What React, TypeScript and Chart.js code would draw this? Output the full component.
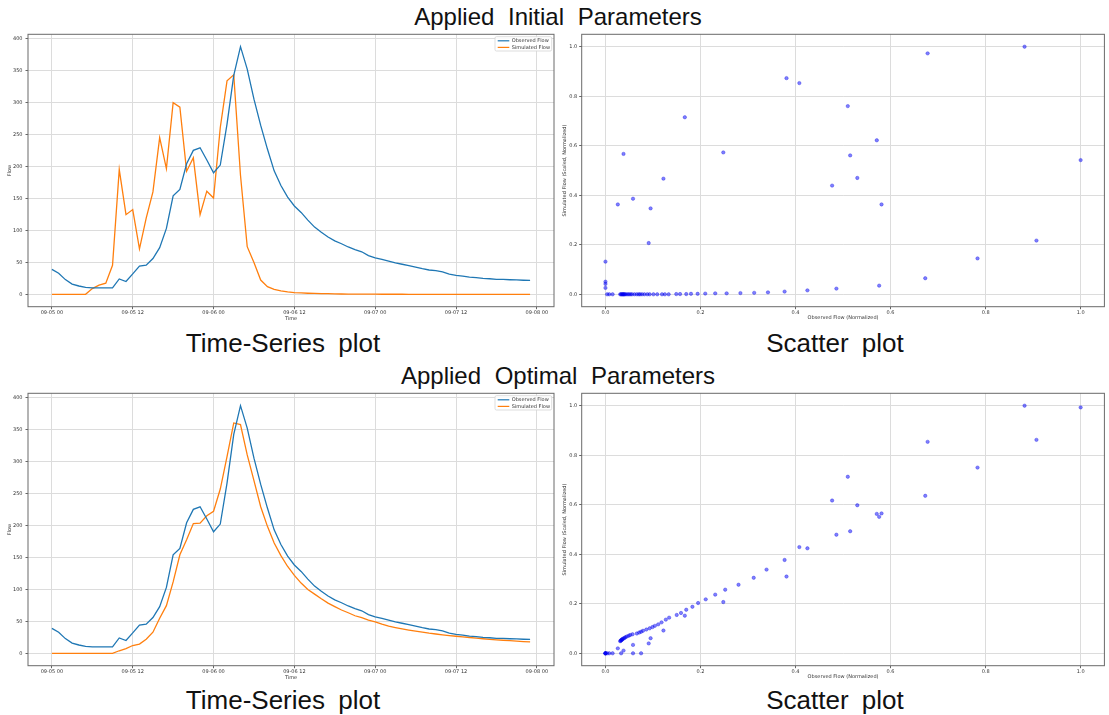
import React, { useEffect, useRef } from 'react';
import { Chart, registerables } from 'chart.js';

Chart.register(...registerables);

// ---------- data ----------
const timeTickHours = [0, 12, 24, 36, 48, 60, 72];
const timeTickLabels = ['09-05 00', '09-05 12', '09-06 00', '09-06 12', '09-07 00', '09-07 12', '09-08 00'];
const flowTicks = [0, 50, 100, 150, 200, 250, 300, 350, 400];
const normTicks = [0, 0.2, 0.4, 0.6, 0.8, 1.0];

// hourly values, 09-05 00 .. 09-07 23
const observedFlow = [
  39, 33, 23, 16, 13, 11, 10, 10, 10, 10,
  24, 20, 32, 44, 45.5, 56, 73, 103, 154, 164,
  204, 225, 229, 210, 190, 202, 266, 342, 387, 352,
  305, 264, 227, 193, 170, 152, 138, 128, 116, 105,
  97, 89.5, 83.5, 79, 74, 70, 66.5, 60.5, 57, 54.5,
  52, 49, 47, 45, 42.5, 40, 38, 37, 35, 31.5,
  29.6, 28.5, 27, 26, 25, 24.3, 23.5, 23.2, 22.8, 22.5,
  22, 21.7,
];
const simulatedInitial = [
  0, 0, 0, 0, 0, 0, 8.9, 14.4, 17.5, 45.3,
  195, 124.5, 132.4, 71, 119, 160, 245, 196.5, 299.4, 292.6,
  192.4, 213.3, 124.5, 161.2, 150.6, 260.7, 333.7, 343, 186, 74.4,
  49.7, 22.3, 12, 7.9, 5.5, 3.8, 2.7, 2.1, 1.7, 1.4,
  1.2, 1.0, 0.7, 0.5, 0.4, 0.3, 0.3, 0.2, 0.2, 0.1,
  0.1, 0.1, 0.1, 0, 0, 0, 0, 0, 0, 0,
  0, 0, 0, 0, 0, 0, 0, 0, 0, 0,
  0, 0,
];
const simulatedOptimal = [
  0, 0, 0, 0, 0, 0, 0, 0, 0, 0,
  4, 7.2, 12.2, 14.4, 22, 33, 54.7, 74.5, 111.6, 154,
  177.5, 202.7, 203.4, 215, 222, 256.7, 307.4, 360, 357.5, 310,
  270, 229, 198.4, 172.4, 152.6, 135.7, 121.7, 109.8, 99.7, 92.5,
  85.3, 78.5, 73, 67.7, 63.4, 58.7, 55.8, 51.8, 49, 45.5,
  42.5, 40.3, 38.3, 36.4, 34.6, 33, 31.4, 30.2, 28.9, 27.8,
  26.7, 25.7, 24.7, 23.7, 22.8, 21.9, 21.1, 20.4, 19.7, 19,
  18.4, 17.8,
];

// scatter: observed (normalized) vs simulated (scaled, normalized)
const initialScatterX = [
  0, 0, 0, 0,
  0.0035, 0.008, 0.015,
  0.031, 0.033, 0.034, 0.036, 0.037, 0.038, 0.040, 0.041, 0.044, 0.047, 0.050, 0.053, 0.056, 0.061,
  0.066, 0.070, 0.073, 0.077,
  0.082, 0.088, 0.093, 0.101,
  0.109, 0.119, 0.125, 0.133,
  0.149, 0.157, 0.170, 0.180, 0.194, 0.210, 0.231, 0.255, 0.284, 0.313, 0.342, 0.377, 0.425,
  0.486, 0.576, 0.673, 0.783, 0.907, 1.0,
  0.026, 0.038, 0.058, 0.091, 0.095, 0.122, 0.167, 0.248, 0.381, 0.408,
  0.477, 0.510, 0.515, 0.530, 0.571, 0.581, 0.678, 0.882,
];
const initialScatterY = [
  0.132, 0.051, 0.042, 0.026,
  0, 0, 0,
  0, 0, 0, 0, 0, 0, 0, 0, 0, 0, 0, 0, 0, 0,
  0, 0, 0, 0,
  0, 0, 0, 0,
  0, 0, 0, 0,
  0.001, 0.001, 0.001, 0.002, 0.002, 0.003, 0.004, 0.004, 0.005, 0.006, 0.008, 0.011, 0.016,
  0.023, 0.035, 0.065, 0.145, 0.217, 0.542,
  0.363, 0.567, 0.386, 0.207, 0.347, 0.467, 0.715, 0.573, 0.873, 0.853,
  0.439, 0.760, 0.561, 0.470, 0.622, 0.363, 0.973, 1.0,
];
const optimalScatterX = [
  0, 0, 0, 0, 0.0035, 0.008, 0.015, 0.033, 0.058, 0.075,
  0.038, 0.026, 0.058, 0.091, 0.095, 0.122, 0.167, 0.248, 0.381, 0.408,
  0.515, 0.571, 0.581, 0.530, 0.477, 0.510, 0.678, 0.882, 1.0, 0.907,
  0.783, 0.673, 0.576, 0.486, 0.425, 0.377, 0.339, 0.312, 0.280, 0.252,
  0.231, 0.211, 0.195, 0.183, 0.170, 0.159, 0.150, 0.134, 0.127, 0.118,
  0.111, 0.104, 0.099, 0.093, 0.086, 0.079, 0.075, 0.071, 0.066, 0.057,
  0.052, 0.049, 0.045, 0.042, 0.040, 0.038, 0.036, 0.035, 0.034, 0.033,
  0.032, 0.031,
];
const optimalScatterY = [
  0, 0, 0, 0, 0, 0, 0, 0, 0, 0,
  0.011, 0.020, 0.034, 0.040, 0.061, 0.092, 0.152, 0.207, 0.310, 0.429,
  0.493, 0.563, 0.565, 0.598, 0.617, 0.713, 0.854, 1.0, 0.993, 0.862,
  0.750, 0.636, 0.551, 0.479, 0.424, 0.377, 0.338, 0.305, 0.277, 0.257,
  0.237, 0.218, 0.203, 0.188, 0.176, 0.163, 0.155, 0.144, 0.136, 0.125,
  0.117, 0.111, 0.106, 0.101, 0.096, 0.091, 0.087, 0.084, 0.080, 0.077,
  0.074, 0.071, 0.068, 0.065, 0.062, 0.060, 0.058, 0.056, 0.054, 0.053,
  0.051, 0.049,
];

// ---------- styling ----------
const FONT = 'DejaVu Sans';
const GRID = '#dcdcdc';
const TICKTXT = '#333';
const BLUE = '#1f77b4';
const ORANGE = '#ff7f0e';

const framePlugin = {
  id: 'frame',
  afterDraw(chart: any) {
    const { ctx, chartArea: a } = chart;
    ctx.save();
    ctx.strokeStyle = '#6a6a6a';
    ctx.lineWidth = 1;
    ctx.strokeRect(a.left, a.top, a.right - a.left, a.bottom - a.top);
    ctx.restore();
  },
};

const legendPlugin = {
  id: 'mplLegend',
  afterDraw(chart: any) {
    const { ctx, chartArea: a } = chart;
    const w = 56.7;
    const h = 14.3;
    const x0 = a.right - 2.3 - w;
    const y0 = a.top + 2.4;
    ctx.save();
    ctx.fillStyle = 'rgba(255,255,255,0.85)';
    ctx.strokeStyle = '#d4d4d4';
    ctx.lineWidth = 0.8;
    ctx.beginPath();
    ctx.roundRect(x0, y0, w, h, 1.5);
    ctx.fill();
    ctx.stroke();
    chart.data.datasets.forEach((ds: any, i: number) => {
      const y = y0 + 4.1 + i * 6.6;
      ctx.strokeStyle = ds.borderColor;
      ctx.lineWidth = 1.2;
      ctx.beginPath();
      ctx.moveTo(x0 + 2.7, y);
      ctx.lineTo(x0 + 14.3, y);
      ctx.stroke();
      ctx.fillStyle = TICKTXT;
      ctx.font = `5px "${FONT}"`;
      ctx.textBaseline = 'middle';
      ctx.textAlign = 'left';
      ctx.fillText(ds.label, x0 + 16.7, y);
    });
    ctx.restore();
  },
};

const tickFont = { size: 5, family: FONT };

function setTicks(values: number[]) {
  return (s: any) => {
    s.ticks = values.map((v) => ({ value: v }));
  };
}

function TimeSeriesChart({ sim, top }: { sim: number[]; top: number }) {
  const ref = useRef<HTMLCanvasElement>(null);
  useEffect(() => {
    const chart = new Chart(ref.current as HTMLCanvasElement, {
      type: 'line',
      data: {
        datasets: [
          {
            label: 'Observed Flow',
            data: observedFlow.map((v, i) => ({ x: i, y: v })),
            borderColor: BLUE,
            borderWidth: 1.3,
            pointRadius: 0,
            tension: 0,
          },
          {
            label: 'Simulated Flow',
            data: sim.map((v, i) => ({ x: i, y: v })),
            borderColor: ORANGE,
            borderWidth: 1.3,
            pointRadius: 0,
            tension: 0,
          },
        ],
      },
      options: {
        animation: false,
        responsive: false,
        devicePixelRatio: 1,
        layout: { padding: { top: 8.3, right: 2, left: 0, bottom: 0 } },
        plugins: { legend: { display: false }, tooltip: { enabled: false } },
        scales: {
          x: {
            type: 'linear',
            min: -3.55,
            max: 74.55,
            afterBuildTicks: setTicks(timeTickHours),
            afterFit: (s: any) => {
              s.height = 19.3;
            },
            ticks: {
              autoSkip: false,
              maxRotation: 0,
              padding: 1,
              color: TICKTXT,
              font: tickFont,
              callback: (v: any) => timeTickLabels[timeTickHours.indexOf(Number(v))],
            },
            grid: { color: GRID, lineWidth: 1, tickLength: 2.5, tickColor: '#666' },
            border: { display: false },
            title: { display: true, text: 'Time', color: TICKTXT, font: tickFont, padding: { top: 0, bottom: 4.7 } },
          },
          y: {
            type: 'linear',
            min: -19.35,
            max: 406.35,
            afterBuildTicks: setTicks(flowTicks),
            afterFit: (s: any) => {
              s.width = 28;
            },
            ticks: { padding: 3, color: TICKTXT, font: tickFont, callback: (v: any) => String(v) },
            grid: { color: GRID, lineWidth: 1, tickLength: 2.5, tickColor: '#666' },
            border: { display: false },
            title: { display: true, text: 'Flow', color: TICKTXT, font: tickFont, padding: { top: 7, bottom: 0 } },
          },
        },
      },
      plugins: [framePlugin, legendPlugin],
    } as any);
    return () => chart.destroy();
  }, [sim]);
  return (
    <canvas
      ref={ref}
      width={556}
      height={300}
      style={{ position: 'absolute', left: 0, top, width: 556, height: 300 }}
    />
  );
}

function ScatterChart({ xs, ys, top }: { xs: number[]; ys: number[]; top: number }) {
  const ref = useRef<HTMLCanvasElement>(null);
  useEffect(() => {
    const chart = new Chart(ref.current as HTMLCanvasElement, {
      type: 'scatter',
      data: {
        datasets: [
          {
            label: 'points',
            data: xs.map((x, i) => ({ x, y: ys[i] })),
            pointRadius: 1.7,
            pointBorderWidth: 0.6,
            pointBackgroundColor: 'rgba(0,0,255,0.5)',
            pointBorderColor: 'rgba(0,0,220,0.55)',
          },
        ],
      },
      options: {
        animation: false,
        responsive: false,
        devicePixelRatio: 1,
        layout: { padding: { top: 8.3, right: 2.3, left: 0, bottom: 0 } },
        plugins: { legend: { display: false }, tooltip: { enabled: false } },
        scales: {
          x: {
            type: 'linear',
            min: -0.05,
            max: 1.05,
            afterBuildTicks: setTicks(normTicks),
            afterFit: (s: any) => {
              s.height = 19.3;
            },
            ticks: { autoSkip: false, maxRotation: 0, padding: 1, color: TICKTXT, font: tickFont, callback: (v: any) => Number(v).toFixed(1) },
            grid: { color: GRID, lineWidth: 1, tickLength: 2.5, tickColor: '#666' },
            border: { display: false },
            title: { display: true, text: 'Observed Flow (Normalized)', color: TICKTXT, font: tickFont, padding: { top: 0, bottom: 5.5 } },
          },
          y: {
            type: 'linear',
            min: -0.05,
            max: 1.05,
            afterBuildTicks: setTicks(normTicks),
            afterFit: (s: any) => {
              s.width = 23.7;
            },
            ticks: { padding: 2, color: TICKTXT, font: tickFont, callback: (v: any) => Number(v).toFixed(1) },
            grid: { color: GRID, lineWidth: 1, tickLength: 2.5, tickColor: '#666' },
            border: { display: false },
            title: { display: true, text: 'Simulated Flow (Scaled, Normalized)', color: TICKTXT, font: tickFont, padding: { top: 4, bottom: 0 } },
          },
        },
      },
      plugins: [framePlugin],
    } as any);
    return () => chart.destroy();
  }, [xs, ys]);
  return (
    <canvas
      ref={ref}
      width={551}
      height={300}
      style={{ position: 'absolute', left: 558, top, width: 551, height: 300 }}
    />
  );
}

const textBase: React.CSSProperties = {
  position: 'absolute',
  fontFamily: '"Liberation Sans", Arial, sans-serif',
  color: '#111',
  lineHeight: 1,
  whiteSpace: 'nowrap',
  transform: 'translateX(-50%)',
};

function Label({ text, x, top, size, spacing }: { text: string; x: number; top: number; size: number; spacing: number }) {
  return <div style={{ ...textBase, left: x, top, fontSize: size, wordSpacing: spacing }}>{text}</div>;
}

export default function App() {
  return (
    <div style={{ position: 'absolute', left: 0, top: 0, width: 1109, height: 715, background: '#fff', overflow: 'hidden' }}>
      <Label text="Applied Initial Parameters" x={558} top={4.7} size={24} spacing={7} />
      <TimeSeriesChart sim={simulatedInitial} top={26} />
      <ScatterChart xs={initialScatterX} ys={initialScatterY} top={26} />
      <Label text="Time-Series plot" x={283} top={330} size={26} spacing={6} />
      <Label text="Scatter plot" x={835} top={330} size={26} spacing={6} />
      <Label text="Applied Optimal Parameters" x={558} top={364} size={24} spacing={7} />
      <TimeSeriesChart sim={simulatedOptimal} top={385} />
      <ScatterChart xs={optimalScatterX} ys={optimalScatterY} top={385} />
      <Label text="Time-Series plot" x={283} top={687} size={26} spacing={6} />
      <Label text="Scatter plot" x={835} top={687} size={26} spacing={6} />
    </div>
  );
}
